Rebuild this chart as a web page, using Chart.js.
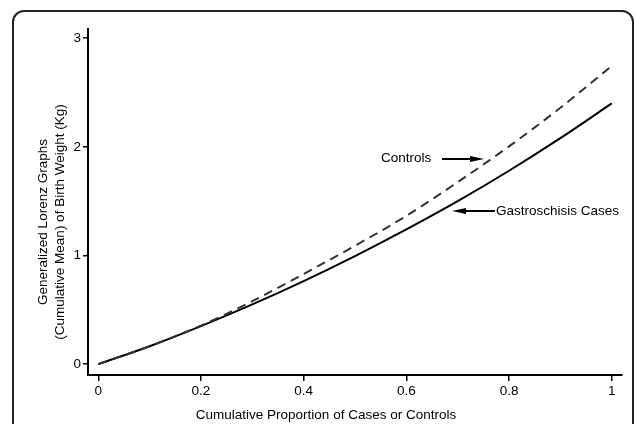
<!DOCTYPE html>
<html>
<head>
<meta charset="utf-8">
<script src="https://cdn.jsdelivr.net/npm/chart.js@4.4.1/dist/chart.umd.min.js"></script>
<style>
  html, body { margin: 0; padding: 0; background: #fff; }
  #wrap { position: relative; width: 635px; height: 424px; overflow: hidden; }
  #frame {
    position: absolute; left: 12px; top: 10px; width: 618px; height: 450px;
    border: 2px solid #222; border-radius: 12px;
  }
  #myChart { position: absolute; left: 0; top: 0; }
</style>
</head>
<body>
<div id="wrap">
  <div id="frame"></div>
  <canvas id="myChart" width="635" height="424"></canvas>
</div>
<script>
// valeurs
const proportion = [0, 0.1, 0.2, 0.3, 0.4, 0.5, 0.6, 0.7, 0.8, 0.9, 1];
const controls = [0, 0.165, 0.355, 0.58, 0.83, 1.09, 1.365, 1.675, 2.005, 2.36, 2.745];
const cases = [0, 0.165, 0.35, 0.55, 0.765, 0.995, 1.24, 1.50, 1.78, 2.08, 2.40];

const xTicks = [0, 0.2, 0.4, 0.6, 0.8, 1];
const xTickLabels = ['0', '0.2', '0.4', '0.6', '0.8', '1'];
const yTicks = [0, 1, 2, 3];
const yTickLabels = ['0', '1', '2', '3'];

const xTitle = 'Cumulative Proportion of Cases or Controls';
const yTitle = ['Generalized Lorenz Graphs', '(Cumulative Mean) of Birth Weight (Kg)'];

const FONT = 'Liberation Sans, Arial, sans-serif';

// titres et flèches
const decorations = {
    id: 'decorations',
    afterDraw(chart) {
        const ctx = chart.ctx;
        ctx.save();
        ctx.fillStyle = '#000';
        ctx.strokeStyle = '#000';
        ctx.font = '13.5px ' + FONT;
        ctx.textBaseline = 'middle';

        ctx.textAlign = 'center';
        ctx.fillText(xTitle, 326, 415);

        ctx.save();
        ctx.translate(0, 222);
        ctx.rotate(-Math.PI / 2);
        ctx.fillText(yTitle[0], 0, 43);
        ctx.fillText(yTitle[1], 0, 60);
        ctx.restore();

        // annotations
        const arrow = (x1, x2, y) => {
            const dir = Math.sign(x2 - x1);
            ctx.lineWidth = 2;
            ctx.beginPath();
            ctx.moveTo(x1, y);
            ctx.lineTo(x2 - dir * 8, y);
            ctx.stroke();
            ctx.beginPath();
            ctx.moveTo(x2, y);
            ctx.lineTo(x2 - dir * 14, y - 3);
            ctx.lineTo(x2 - dir * 14, y + 3);
            ctx.closePath();
            ctx.fill();
        };
        ctx.textAlign = 'left';
        ctx.fillText('Controls', 381, 158);
        arrow(442, 484, 159);
        ctx.fillText('Gastroschisis Cases', 496, 211);
        arrow(495, 452, 211);
        ctx.restore();
    }
};

const ctx = document.getElementById('myChart').getContext('2d');

const myChart = new Chart(ctx, {
    type: 'line',
    data: {
        datasets: [{
            label: 'Controls',
            data: proportion.map((p, i) => ({ x: p, y: controls[i] })),
            borderColor: '#333',
            borderWidth: 2,
            borderDash: [9, 6],
            pointRadius: 0,
            cubicInterpolationMode: 'monotone',
            fill: false
        }, {
            label: 'Gastroschisis Cases',
            data: proportion.map((p, i) => ({ x: p, y: cases[i] })),
            borderColor: '#000',
            borderWidth: 2,
            pointRadius: 0,
            cubicInterpolationMode: 'monotone',
            fill: false
        }]
    },
    options: {
        responsive: false,
        animation: false,
        layout: { padding: { top: 29, right: 13, left: 0, bottom: 0 } },
        plugins: {
            legend: { display: false },
            tooltip: { enabled: false }
        },
        scales: {
            x: {
                type: 'linear',
                min: -0.02,
                max: 1.02,
                afterBuildTicks: s => { s.ticks = xTicks.map(v => ({ value: v })); },
                afterFit: s => { s.height = 49; },
                ticks: {
                    callback: (v, i) => xTickLabels[i],
                    color: '#000',
                    font: { family: FONT, size: 13.5 },
                    padding: 2,
                    maxRotation: 0
                },
                grid: { drawOnChartArea: false, tickLength: 6, color: '#000', lineWidth: 1.5 },
                border: { color: '#000', width: 2 }
            },
            y: {
                min: -0.1,
                max: 3.085,
                afterBuildTicks: s => { s.ticks = yTicks.map(v => ({ value: v })); },
                afterFit: s => { s.width = 88; },
                ticks: {
                    callback: (v, i) => yTickLabels[i],
                    color: '#000',
                    font: { family: FONT, size: 13.5 },
                    padding: 2
                },
                grid: { drawOnChartArea: false, tickLength: 5, color: '#000', lineWidth: 1.5 },
                border: { color: '#000', width: 2 }
            }
        }
    },
    plugins: [decorations]
});
</script>
</body>
</html>
